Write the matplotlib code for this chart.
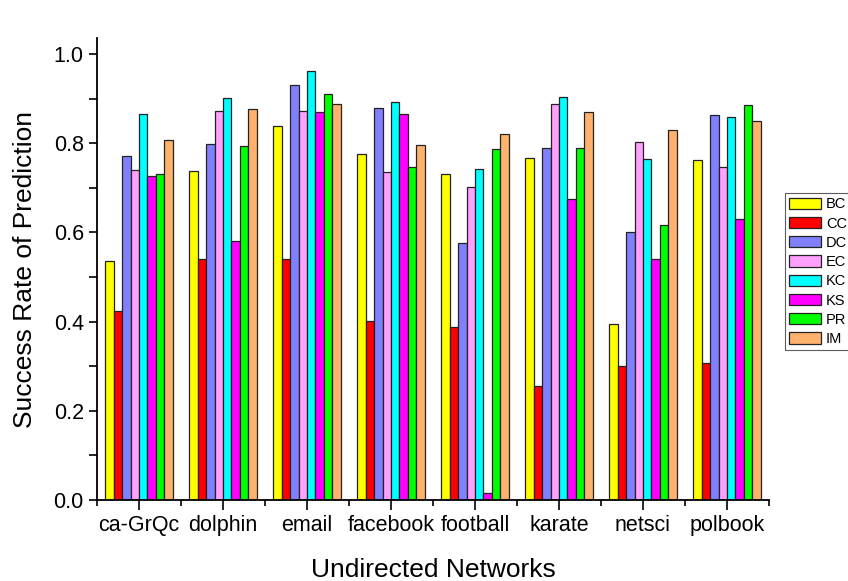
import numpy as np
import matplotlib
matplotlib.use('Agg')
import matplotlib.pyplot as plt
from matplotlib.ticker import MultipleLocator, FormatStrFormatter

plt.rcParams['font.family'] = ['Liberation Sans', 'DejaVu Sans']

networks = ['ca-GrQc', 'dolphin', 'email', 'facebook', 'football', 'karate', 'netsci', 'polbook']
methods = ['BC', 'CC', 'DC', 'EC', 'KC', 'KS', 'PR', 'IM']
colors = ['#FFFF00', '#FF0000', '#8080FF', '#FFA0FF', '#00FFFF', '#FF00FF', '#00FF00', '#FFB26E']

BC = [0.536, 0.737, 0.839, 0.776, 0.731, 0.767, 0.394, 0.763]
CC = [0.423, 0.540, 0.540, 0.402, 0.388, 0.256, 0.301, 0.307]
DC = [0.772, 0.798, 0.930, 0.880, 0.576, 0.790, 0.600, 0.864]
EC = [0.741, 0.873, 0.873, 0.735, 0.702, 0.888, 0.803, 0.747]
KC = [0.866, 0.901, 0.962, 0.893, 0.742, 0.903, 0.764, 0.858]
KS = [0.726, 0.581, 0.869, 0.865, 0.016, 0.674, 0.540, 0.631]
PR = [0.732, 0.794, 0.910, 0.747, 0.786, 0.790, 0.617, 0.885]
IM = [0.808, 0.876, 0.887, 0.797, 0.820, 0.870, 0.829, 0.851]
series = [BC, CC, DC, EC, KC, KS, PR, IM]

fig = plt.figure(figsize=(8.48, 5.81), dpi=100)
ax = fig.add_axes([97 / 848, 1 - 500 / 581, (769 - 97) / 848, (500 - 38) / 581])

x = np.arange(1, len(networks) + 1)
w = 0.1
for i, (vals, name, c) in enumerate(zip(series, methods, colors)):
    ax.bar(x + (i - 3.5) * w, vals, width=w, color=c, edgecolor='#222222',
           linewidth=0.9, label=name)

ax.set_xlim(0.5, 8.5)
ax.set_ylim(0, 1.036)
ax.set_xticks(x)
ax.set_xticklabels(networks, fontsize=15.5)
ax.xaxis.set_minor_locator(MultipleLocator(1, offset=0.5))
ax.yaxis.set_major_locator(MultipleLocator(0.2))
ax.yaxis.set_minor_locator(MultipleLocator(0.1))
ax.yaxis.set_major_formatter(FormatStrFormatter('%.1f'))
ax.tick_params(axis='y', labelsize=15.5, length=6, width=1.2, direction='out')
ax.tick_params(axis='y', which='minor', length=6, width=1.2)
ax.tick_params(axis='x', length=7, width=1.2, direction='out')
ax.tick_params(axis='x', which='minor', length=4, width=1.2)
for s in ['top', 'right']:
    ax.spines[s].set_visible(False)
for s in ['left', 'bottom']:
    ax.spines[s].set_linewidth(1.3)

ax.set_ylabel('Success Rate of Prediction', fontsize=19, labelpad=12)
ax.set_xlabel('Undirected Networks', fontsize=19, labelpad=16)

leg = fig.legend(loc='upper left', bbox_to_anchor=(785 / 848, 1 - 193 / 581),
                 fontsize=10.5, frameon=True, fancybox=False, edgecolor='#333333',
                 handlelength=2.2, handleheight=0.8, labelspacing=0.36,
                 borderpad=0.3, handletextpad=0.3, borderaxespad=0)
leg.get_frame().set_linewidth(0.8)

fig.savefig('out.png', dpi=100)
